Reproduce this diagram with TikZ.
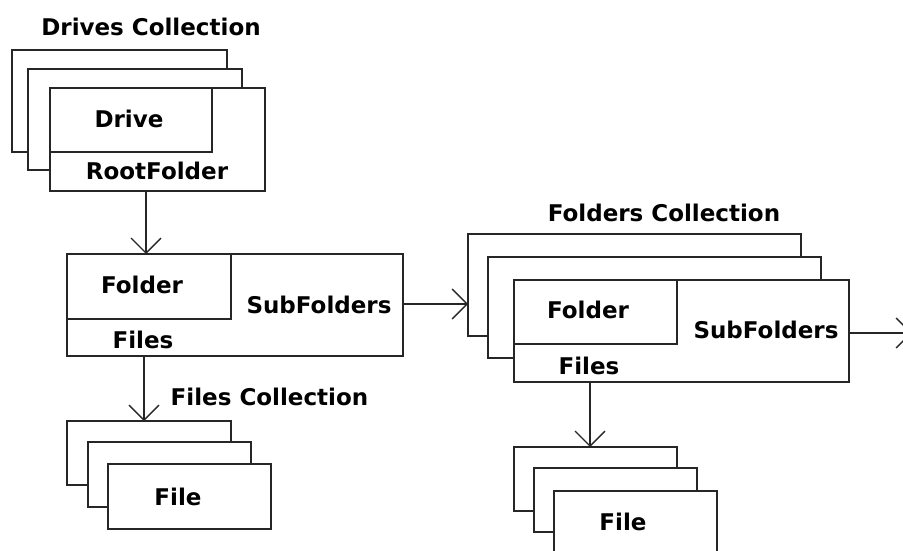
\documentclass[tikz,border=0pt]{standalone}
\usepackage{fontspec}
\setmainfont{DejaVu Sans}
\usetikzlibrary{arrows.meta}
\tikzset{
  box/.style={draw=black!85, fill=white, line width=1.6pt, inner sep=0pt, outer sep=0pt, anchor=north west},
  lbl/.style={font=\bfseries\fontsize{23}{27}\selectfont, inner sep=0pt, text=black},
  arr/.style={draw=black!85, line width=1.6pt, -{Straight Barb[length=15pt,width=30pt,line width=1.3pt]}},
}
\begin{document}
\begin{tikzpicture}[x=1pt,y=-1pt]
\useasboundingbox (0,0) rectangle (903,551);
\clip (0,0) rectangle (903,551);
% Drives collection
\node[lbl] (tdc) at (151,27) {Drives Collection};
\node[box, minimum width=215pt, minimum height=102pt] (dr1) at (12,50) {};
\node[box, minimum width=214pt, minimum height=101pt] (dr2) at (28,69) {};
\node[box, minimum width=215pt, minimum height=103pt] (dr3) at (50,88) {};
\node[box, minimum width=162pt, minimum height=64pt] (drin) at (50,88) {};
\node[lbl] (tdrive) at (129,119) {Drive};
\node[lbl] (troot) at (157,171) {RootFolder};
% Folder
\node[box, minimum width=336pt, minimum height=102pt] (fo) at (67,254) {};
\node[box, minimum width=164pt, minimum height=65pt] (foin) at (67,254) {};
\node[lbl] (tfold) at (142,285) {Folder};
\node[lbl] (tsub) at (319,305) {SubFolders};
\node[lbl] (tfiles) at (143,340) {Files};
% Files collection left
\node[lbl] (tfc) at (269.5,397) {Files Collection};
\node[box, minimum width=164pt, minimum height=64pt] (fl1) at (67,421) {};
\node[box, minimum width=163pt, minimum height=65pt] (fl2) at (88,442) {};
\node[box, minimum width=163pt, minimum height=65pt] (fl3) at (108,464) {};
\node[lbl] (tfile) at (178,497) {File};
% Folders collection
\node[lbl] (tfoc) at (664,213) {Folders Collection};
\node[box, minimum width=333pt, minimum height=102pt] (fc1) at (468,234) {};
\node[box, minimum width=333pt, minimum height=101pt] (fc2) at (488,257) {};
\node[box, minimum width=335pt, minimum height=102pt] (fc3) at (514,280) {};
\node[box, minimum width=163pt, minimum height=64pt] (fcin) at (514,280) {};
\node[lbl] (tfold2) at (588,310) {Folder};
\node[lbl] (tsub2) at (766,330) {SubFolders};
\node[lbl] (tfiles2) at (589,366) {Files};
% Files collection right
\node[box, minimum width=163pt, minimum height=64pt] (fr1) at (514,447) {};
\node[box, minimum width=163pt, minimum height=64pt] (fr2) at (534,468) {};
\node[box, minimum width=163pt, minimum height=65pt] (fr3) at (554,491) {};
\node[lbl] (tfile2) at (623,522) {File};
% connectors
\coordinate (c1) at (146,191);
\draw[arr] (c1) -- (c1 |- fo.north);
\coordinate (c2) at (403,304);
\draw[arr] (c2) -- (c2 -| fc1.west);
\coordinate (c3) at (144,356);
\draw[arr] (c3) -- (c3 |- fl1.north);
\coordinate (c4) at (590,382);
\draw[arr] (c4) -- (c4 |- fr1.north);
\coordinate (c5) at (849,333);
\coordinate (c6) at (912,333);
\draw[arr] (c5) -- (c6);
\end{tikzpicture}
\end{document}
